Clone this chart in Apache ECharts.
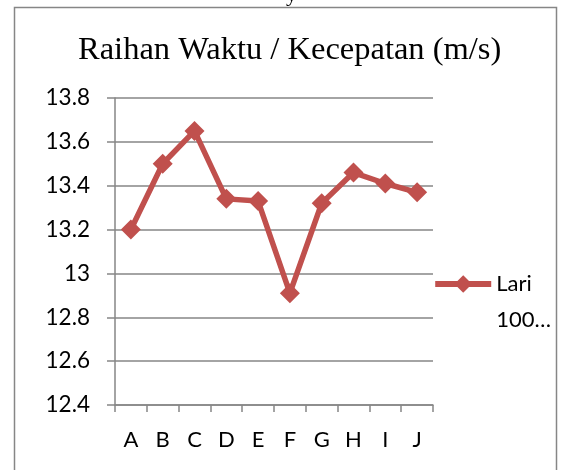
<!DOCTYPE html>
<html>
<head>
<meta charset="utf-8">
<script src="https://cdn.jsdelivr.net/npm/echarts@6/dist/echarts.min.js"></script>
<style>
  html, body { margin: 0; padding: 0; background: #fff; }
  #main { width: 565px; height: 470px; }
</style>
</head>
<body>
<div id="main"></div>
<script>
// data
var categories = ['A', 'B', 'C', 'D', 'E', 'F', 'G', 'H', 'I', 'J'];
var lari100 = [13.2, 13.5, 13.65, 13.34, 13.33, 12.91, 13.32, 13.46, 13.41, 13.37];
var yTicks = [12.4, 12.6, 12.8, 13, 13.2, 13.4, 13.6, 13.8];

var chart = echarts.init(document.getElementById('main'));
var gray = '#868686';
var red = '#C0504D';
var labelFont = 'Lato';

var option = {
  backgroundColor: '#fff',
  animation: false,
  title: {
    text: 'Raihan Waktu / Kecepatan (m/s)',
    left: 73,
    top: 29,
    textStyle: {
      fontFamily: 'Liberation Serif',
      fontWeight: 'normal',
      fontSize: 32.5,
      color: '#000'
    }
  },
  graphic: [
    {
      type: 'rect',
      shape: { x: 14.5, y: 7.5, width: 542, height: 480 },
      style: { fill: 'none', stroke: gray, lineWidth: 1.5 }
    },
    {
      // descender of text cut off above the frame
      type: 'text',
      left: 286,
      top: -16,
      style: { text: 'y', font: '22px "Liberation Serif"', fill: '#000' }
    }
  ],
  legend: {
    right: 9,
    top: 225,
    orient: 'vertical',
    itemWidth: 56,
    itemHeight: 22,
    data: ['Lari 100…'],
    formatter: function () { return '\u00a0\nLari\n100…'; },
    lineStyle: { width: 6 },
    textStyle: {
      fontFamily: labelFont,
      fontSize: 22,
      color: '#000',
      lineHeight: 36
    }
  },
  grid: {
    left: 115,
    right: 132,
    top: 98,
    bottom: 65
  },
  xAxis: {
    type: 'category',
    data: categories,
    boundaryGap: true,
    axisLine: { lineStyle: { color: gray, width: 1.5 } },
    axisTick: { show: true, length: 7, lineStyle: { color: gray, width: 1.5 } },
    axisLabel: {
      fontFamily: labelFont,
      fontSize: 22,
      color: '#000',
      margin: 24
    }
  },
  yAxis: {
    type: 'value',
    min: yTicks[0],
    max: yTicks[yTicks.length - 1],
    interval: 0.2,
    axisLine: { show: true, lineStyle: { color: gray, width: 1.5 } },
    axisTick: { show: true, length: 8, lineStyle: { color: gray, width: 1.5 } },
    splitLine: { lineStyle: { color: gray, width: 1.5 } },
    axisLabel: {
      fontFamily: labelFont,
      fontSize: 22.5,
      color: '#000',
      margin: 25,
      formatter: function (v) { return String(parseFloat(v.toFixed(1))); }
    }
  },
  series: [
    {
      name: 'Lari 100…',
      type: 'line',
      data: lari100,
      symbol: 'diamond',
      symbolSize: 20,
      lineStyle: { color: red, width: 5.5 },
      itemStyle: { color: red }
    }
  ]
};

chart.setOption(option);
</script>
</body>
</html>
